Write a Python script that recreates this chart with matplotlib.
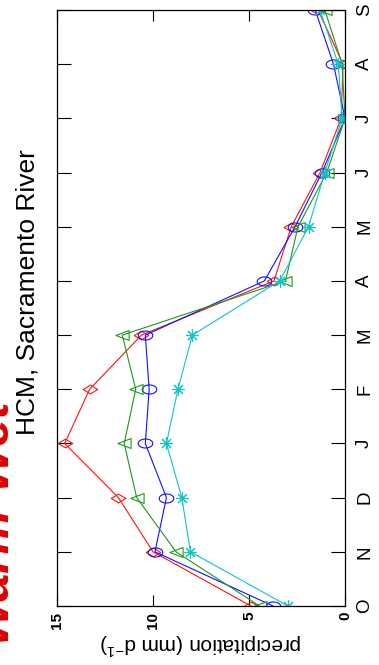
import matplotlib
matplotlib.use("Agg")
import matplotlib.pyplot as plt
from matplotlib.path import Path
import numpy as np

months = ['O', 'N', 'D', 'J', 'F', 'M', 'A', 'M', 'J', 'J', 'A', 'S']
red_vals = [4.9, 10.0, 11.8, 14.6, 13.3, 10.6, 3.7, 2.8, 1.3, 0.2, 0.1, 1.4]
blue_vals = [3.75, 9.9, 9.3, 10.4, 10.2, 10.4, 4.2, 2.6, 1.2, 0.0, 0.6, 1.55]
green_vals = [4.45, 8.8, 10.85, 11.5, 10.9, 11.6, 3.1, 2.45, 0.95, 0.0, 0.15, 1.05]
cyan_vals = [2.97, 8.05, 8.5, 9.3, 8.7, 7.95, 3.4, 1.9, 1.05, 0.15, 0.35, 1.3]
xticks = [0, 5, 10, 15]
xticklabels = ['0', '5', '10', '15']

plt.rcParams['font.family'] = ['Liberation Sans', 'DejaVu Sans']
plt.rcParams['mathtext.fontset'] = 'custom'
plt.rcParams['mathtext.rm'] = 'Liberation Sans'
plt.rcParams['mathtext.it'] = 'Liberation Sans:italic'

fig = plt.figure(figsize=(3.79, 6.65), dpi=100)
ax = fig.add_axes([57/379, 59/665, 288/379, 596/665])

# custom stretched markers
t = np.linspace(0, 2*np.pi, 41)
ellipse = Path(np.column_stack([np.cos(t), 0.62*np.sin(t)]), closed=True)
diamond = Path([(-1, 0), (0, 0.6), (1, 0), (0, -0.6), (-1, 0)], closed=True)
tri_left = Path([(-1, 0), (1, 0.75), (1, -0.75), (-1, 0)], closed=True)

y = np.arange(len(months))
lw = 0.8
ax.plot(red_vals, y, color='#ff1010', lw=lw, marker=diamond, ms=10.5, mfc='none', mec='#ff1010', mew=0.8)
ax.plot(blue_vals, y, color='#1010ff', lw=lw, marker=ellipse, ms=10.5, mfc='none', mec='#1010ff', mew=0.8)
ax.plot(green_vals, y, color='#1a9a1a', lw=lw, marker=tri_left, ms=9.5, mfc='none', mec='#1a9a1a', mew=0.8)
ax.plot(cyan_vals, y, color='#10c4c4', lw=lw, marker=(8, 2, 0), ms=9, mfc='none', mec='#10c4c4', mew=0.8)

ax.set_xlim(15, 0)
ax.set_ylim(0, len(months) - 1)
ax.set_xticks(xticks)
ax.set_xticklabels(xticklabels, rotation=90, fontsize=11, fontweight='bold')
ax.set_yticks(y)
ax.set_yticklabels(months, rotation=90, fontsize=13.5, va='center')
ax.yaxis.tick_right()
ax.tick_params(axis='y', which='both', left=True, right=True, labelleft=False, labelright=True,
               direction='in', length=10, width=0.8, pad=8)
ax.tick_params(axis='x', which='both', top=True, bottom=True, direction='in', length=8, width=0.8, pad=4)
for s in ax.spines.values():
    s.set_linewidth(0.9)

ax.set_xlabel(r'precipitation (mm d$^{-1}$)', rotation=180, fontsize=15, labelpad=2)

fig.text(28/379, 1 - 292/665, 'HCM, Sacramento River', rotation=90, fontsize=19,
         ha='center', va='center', color='black')
fig.text(15/379, 1 - 520/665, 'Warm-Wet', rotation=90, fontsize=36, fontweight='bold',
         fontstyle='italic', ha='right', va='center', color='#e00000')

fig.savefig('out.png', dpi=100)
